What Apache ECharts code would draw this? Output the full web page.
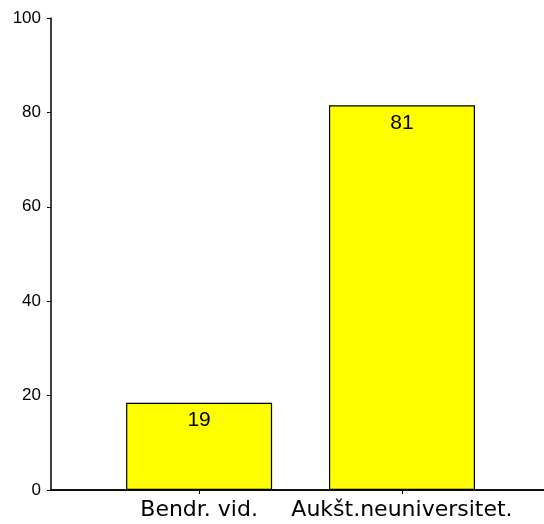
<!DOCTYPE html>
<html>
<head>
<meta charset="utf-8">
<script src="https://cdn.jsdelivr.net/npm/echarts@6/dist/echarts.min.js"></script>
<style>
  html, body { margin: 0; padding: 0; background: #fff; }
  #main { width: 544px; height: 524px; }
</style>
</head>
<body>
<div id="main"></div>
<script>
// kategorijos ir reikšmės
var categories = ['Bendr. vid.', 'Aukšt.neuniversitet.'];
var positions = [1, 2];
var values = [18.5, 81.5];
var valueLabels = ['19', '81'];

var myChart = echarts.init(document.getElementById('main'));

var barData = positions.map(function (p, i) { return [p, values[i]]; });

var option = {
  animation: false,
  textStyle: { fontFamily: 'Liberation Sans' },
  grid: { left: 51, right: 0, top: 18, bottom: 34 },
  xAxis: [
    {
      type: 'value',
      min: 0.27,
      max: 2.7,
      axisLine: { show: true, onZero: false, lineStyle: { color: '#000', width: 1.5 } },
      axisTick: { show: true, customValues: positions, length: 4, lineStyle: { color: '#000' } },
      axisLabel: {
        customValues: positions,
        color: '#000',
        fontSize: 22,
        fontFamily: 'DejaVu Sans',
        margin: 9,
        formatter: function (v) { return categories[positions.indexOf(v)] || ''; }
      },
      splitLine: { show: false }
    },
    {
      type: 'value',
      position: 'top',
      min: 0.27,
      max: 2.7,
      axisLine: { show: true, lineStyle: { color: '#000', width: 1.5 } },
      axisTick: { show: false },
      axisLabel: { show: false },
      splitLine: { show: false }
    }
  ],
  yAxis: {
    type: 'value',
    min: 0,
    max: 100,
    interval: 20,
    axisLine: { show: true, lineStyle: { color: '#000', width: 1.5 } },
    axisTick: { show: true, length: 4, lineStyle: { color: '#000' } },
    axisLabel: { color: '#000', fontSize: 17, fontFamily: 'Liberation Sans', margin: 10 },
    splitLine: { show: false }
  },
  series: [
    {
      type: 'bar',
      data: barData,
      barWidth: 146,
      itemStyle: { color: '#ffff00', borderColor: '#000', borderWidth: 1.2 },
      label: {
        show: true,
        position: 'insideTop',
        distance: 7,
        color: '#000',
        fontSize: 21,
        fontFamily: 'Liberation Sans',
        formatter: function (p) { return valueLabels[p.dataIndex]; }
      }
    }
  ]
};

myChart.setOption(option);
</script>
</body>
</html>
